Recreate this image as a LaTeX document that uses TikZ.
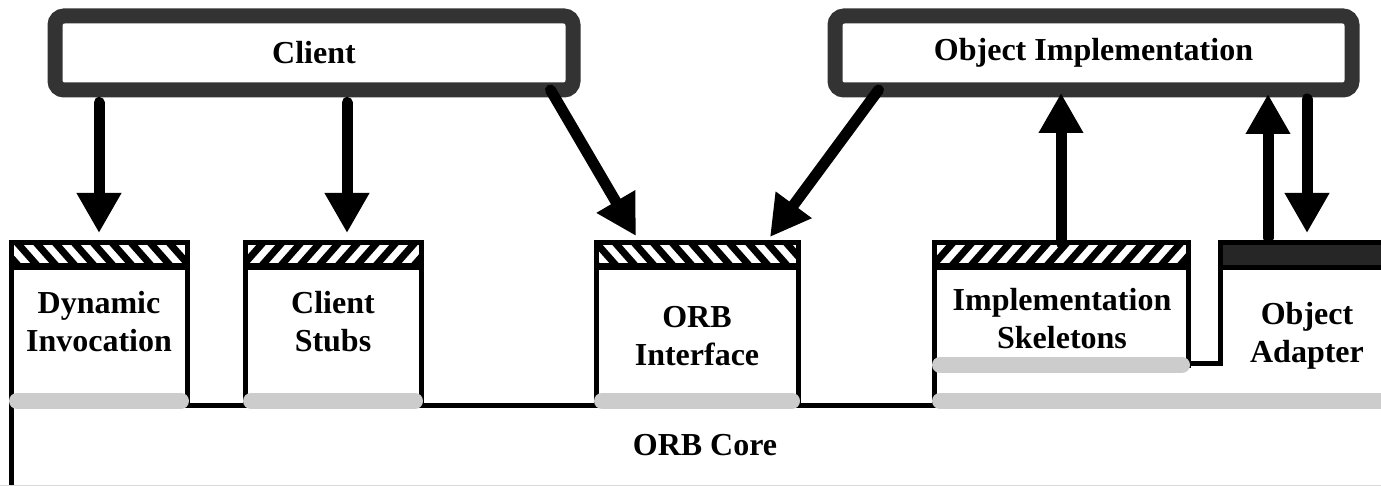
\documentclass[tikz,border=0pt]{standalone}
\usepackage{fontspec}
\setmainfont{Liberation Serif}
\usetikzlibrary{arrows.meta}

\tikzset{
  frame/.style={draw=black!80, line width=15pt, rounded corners=9pt, fill=white, inner sep=0pt},
  body/.style={draw, line width=5pt, fill=white, inner sep=0pt, outer sep=0pt},
  bar/.style={body, minimum height=23pt},
  hatch/.style={path picture={
      \foreach \i in {-9,...,9}
        \draw[line width=7pt] ([xshift=\i*19pt,yshift=-5pt]path picture bounding box.south) -- ++(#1*30pt,34pt);}},
  shelf/.style={draw=black!20, line width=16pt, line cap=round, shorten <=6pt, shorten >=6pt},
  edge/.style={line width=5pt},
  flow/.style={line width=11pt, line cap=round, -{Triangle[length=40pt,width=42pt]}},
  txt/.style={font=\bfseries\fontsize{32}{38}\selectfont, align=center, inner sep=0pt},
}

\begin{document}
\begin{tikzpicture}[x=1pt, y=-1pt]
  \useasboundingbox (0,0) rectangle (1381,486);
  \clip (0,0) rectangle (1381,486);

  % boxes sitting on the core
  \node[body, minimum width=176pt, minimum height=133pt] (dii) at (99,334.5) {};
  \node[body, minimum width=176pt, minimum height=133pt] (stubs) at (333,334.5) {};
  \node[body, minimum width=202pt, minimum height=133pt] (orbif) at (697,334.5) {};
  \node[body, minimum width=254pt, minimum height=97pt] (skel) at (1061,316.5) {};

  \node[bar, hatch=-1, minimum width=176pt] (dii-top) at (99,254.5) {};
  \node[bar, hatch=1, minimum width=176pt] (stubs-top) at (333,254.5) {};
  \node[bar, hatch=-1, minimum width=202pt] (orbif-top) at (697,254.5) {};
  \node[bar, hatch=1, minimum width=254pt] (skel-top) at (1061,254.5) {};
  \node[bar, fill=black!85, minimum width=200pt, minimum height=25pt] (adapter-top) at (1320,255.5) {};

  % outline of the core
  \draw[edge] (dii.south west |- 0,490) -- ([yshift=-4pt]dii.south west)
    -- ([yshift=-4pt]dii.south west -| skel.south west) -- (skel.south west);
  \draw[edge] ([yshift=2pt]skel.south east) -- ([yshift=2pt]skel.south east -| adapter-top.south west)
    -- (adapter-top.south west);
  \draw[black!15, line width=1pt] (0,485.5) -- (1381,485.5);

  \draw[shelf] (dii.south west) -- (dii.south east);
  \draw[shelf] (stubs.south west) -- (stubs.south east);
  \draw[shelf] (orbif.south west) -- (orbif.south east);
  \draw[shelf] (skel.south west) -- (skel.south east);
  \draw[shelf] (skel.south west |- dii.south) -- (1400,401);

  \node[txt] (dii-label) at (99,322) {Dynamic\\Invocation};
  \node[txt] (stubs-label) at (333,322) {Client\\Stubs};
  \node[txt] (orbif-label) at (697,336) {ORB\\Interface};
  \node[txt] (skel-label) at (1062,319) {Implementation\\Skeletons};
  \node[txt] (adapter) at (1307,336) {Object\\Adapter};
  \node[txt] (core) at (705,445) {ORB Core};

  \node[frame, txt, minimum width=518pt, minimum height=74pt] (client) at (314,53) {Client};
  \node[frame, txt, minimum width=517pt, minimum height=74pt] (oimpl) at (1093.5,53) {Object Implementation};

  \coordinate (stubs-in) at ([xshift=14pt]stubs-top.north);
  \coordinate (ad-up) at ([xshift=-52pt]adapter-top.north);
  \coordinate (ad-down) at ([xshift=-13pt]adapter-top.north);

  \draw[flow, shorten <=5pt, shorten >=10pt] (client.south -| dii-top.north) -- (dii-top.north);
  \draw[flow, shorten <=5pt, shorten >=10pt] (client.south -| stubs-in) -- (stubs-in);
  \draw[flow] ([xshift=-30pt,yshift=7.5pt]client.south east) -- ([xshift=-61pt,yshift=7pt]orbif-top.north);
  \draw[flow] ([xshift=51pt,yshift=7.5pt]oimpl.south west) -- ([xshift=73pt,yshift=6pt]orbif-top.north);
  \draw[flow, shorten >=-4.5pt] (skel-top.north) -- (oimpl.south -| skel-top.north);
  \draw[flow, shorten <=5pt, shorten >=-3.5pt] (ad-up) -- (oimpl.south -| ad-up);
  \draw[flow, shorten <=1.5pt, shorten >=10pt] (oimpl.south -| ad-down) -- (ad-down);
\end{tikzpicture}
\end{document}
